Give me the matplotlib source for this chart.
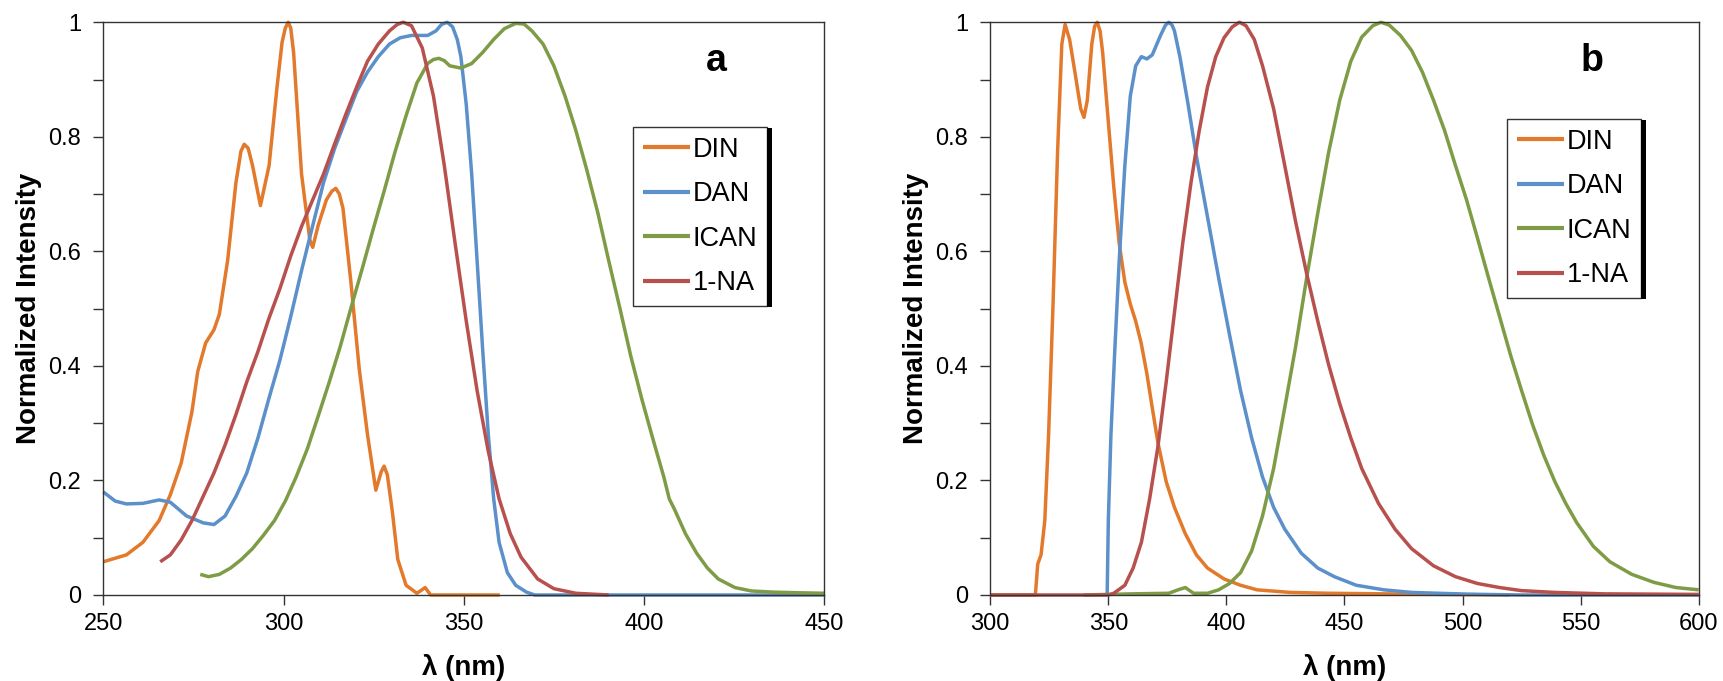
import matplotlib
matplotlib.use("Agg")
import matplotlib.pyplot as plt
from matplotlib.patches import Rectangle
from matplotlib.ticker import MultipleLocator, FuncFormatter

plt.rcParams['font.family'] = ['Liberation Sans', 'DejaVu Sans']

# Panel a: absorption spectra
din_a_x = [250, 256.4, 261, 265.5, 268.6, 271.6, 274.6, 276.2, 278.4, 280.7, 282.2, 284.5,
           286.8, 288.2, 289.1, 290.2, 291.4, 293.6, 296, 298.2, 299.6, 300.5, 301.3, 302,
           302.8, 305, 307.3, 308.1, 309.6, 311.9, 313.4, 314.5, 315.5, 316.5, 318.7, 321,
           323.3, 325.6, 327.1, 327.9, 328.8, 330.2, 331.7, 334, 337, 339.3, 340.8, 360]
din_a_y = [0.058, 0.07, 0.092, 0.13, 0.175, 0.23, 0.32, 0.39, 0.44, 0.463, 0.49, 0.584,
           0.72, 0.775, 0.787, 0.78, 0.75, 0.68, 0.75, 0.887, 0.965, 0.99, 1.0, 0.99,
           0.947, 0.735, 0.62, 0.607, 0.645, 0.69, 0.705, 0.71, 0.7, 0.675, 0.546, 0.395,
           0.28, 0.183, 0.215, 0.225, 0.21, 0.145, 0.062, 0.017, 0.003, 0.013, 0.0, 0.0]

dan_a_x = [250, 253.3, 256.4, 261, 265.5, 268.6, 273.1, 277.7, 280.7, 283.8, 286.8, 289.8,
           292.9, 295.9, 299, 302, 305.1, 308.1, 311.1, 314.2, 317.2, 320.3, 323.3, 326.3,
           329.4, 332.4, 335.5, 340, 342.3, 343.8, 345.4, 346.9, 348.2, 349.2, 350.7, 352.2,
           353.7, 355.2, 356.8, 358.3, 359.8, 362.1, 364.4, 367.4, 369.7, 450]
dan_a_y = [0.18, 0.164, 0.159, 0.16, 0.166, 0.162, 0.138, 0.126, 0.123, 0.138, 0.172, 0.213,
           0.274, 0.342, 0.41, 0.486, 0.569, 0.645, 0.72, 0.78, 0.829, 0.879, 0.913, 0.94,
           0.962, 0.973, 0.977, 0.977, 0.985, 0.996, 1.0, 0.992, 0.97, 0.94, 0.856, 0.735,
           0.584, 0.433, 0.281, 0.168, 0.092, 0.039, 0.017, 0.005, 0.0, 0.0]

ican_a_x = [276.9, 279.2, 282.2, 285.3, 288.3, 291.4, 294.4, 297.5, 300.5, 303.5, 306.6,
            309.6, 312.7, 315.7, 318.7, 321.8, 324.8, 327.9, 330.9, 334, 337, 340, 341.6,
            343.1, 344.6, 346.1, 349.2, 352.2, 355.2, 358.3, 361.3, 364.4, 366.7, 368.9, 372,
            375, 378.1, 381.1, 384.1, 387.2, 390.2, 393.3, 396.3, 399.4, 402.4, 405.5, 407,
            408.5, 411.5, 414.6, 417.6, 420.6, 425.2, 429.8, 435.9, 442, 450]
ican_a_y = [0.036, 0.032, 0.036, 0.047, 0.062, 0.081, 0.104, 0.13, 0.164, 0.206, 0.255,
            0.312, 0.372, 0.433, 0.501, 0.569, 0.637, 0.705, 0.773, 0.837, 0.894, 0.928, 0.935,
            0.937, 0.933, 0.924, 0.92, 0.928, 0.947, 0.97, 0.989, 0.998, 0.997, 0.985, 0.962,
            0.924, 0.871, 0.811, 0.743, 0.667, 0.584, 0.501, 0.418, 0.342, 0.274, 0.206, 0.168,
            0.149, 0.107, 0.073, 0.047, 0.028, 0.013, 0.007, 0.005, 0.004, 0.003]

na_a_x = [265.8, 268.6, 271.6, 274.6, 277.7, 280.7, 283.8, 286.8, 289.8, 292.9, 295.9, 299,
          302, 305.1, 308.1, 311.1, 314.2, 317.2, 320.3, 323.3, 326.3, 329.4, 331.5, 333.2,
          335.5, 338.5, 341.6, 344.6, 347.6, 350.7, 353.7, 356.8, 359.8, 362.9, 365.9, 370.5,
          375, 381.1, 390.2]
na_a_y = [0.058, 0.07, 0.096, 0.13, 0.172, 0.213, 0.262, 0.315, 0.372, 0.425, 0.482, 0.535,
          0.592, 0.645, 0.69, 0.735, 0.788, 0.838, 0.887, 0.932, 0.962, 0.985, 0.996, 1.0,
          0.994, 0.955, 0.871, 0.75, 0.614, 0.478, 0.357, 0.251, 0.168, 0.107, 0.066, 0.028,
          0.011, 0.003, 0.0]

# Panel b: emission spectra
din_b_x = [300, 319.1, 320.1, 321.5, 323.1, 324.7, 326.6, 328.5, 330.3, 331.7, 333.6, 336,
           338.3, 339.7, 341.1, 343, 344.2, 345.3, 346.5, 347.6, 350, 352.3, 354.6, 357,
           359.3, 361.6, 363.9, 366.3, 368.6, 371, 374.5, 378, 382.6, 387.3, 392, 399, 406,
           413, 427, 443.3, 478.4, 520]
din_b_y = [0.0, 0.0, 0.054, 0.07, 0.13, 0.28, 0.51, 0.773, 0.962, 0.996, 0.97, 0.909,
           0.849, 0.834, 0.864, 0.962, 0.993, 1.0, 0.985, 0.947, 0.826, 0.713, 0.614, 0.546,
           0.508, 0.478, 0.44, 0.387, 0.327, 0.266, 0.198, 0.153, 0.107, 0.07, 0.047, 0.028,
           0.017, 0.009, 0.0045, 0.003, 0.0015, 0.0]

dan_b_x = [349.5, 350, 351.1, 352.8, 354.6, 357, 359.3, 361.6, 364, 366.3, 368.6, 372.1,
           374.2, 375.6, 377, 378, 380.3, 383.8, 387.3, 392, 396.7, 401.3, 406, 410.7, 415.3,
           420, 424.7, 431.7, 438.7, 445.7, 455, 466.7, 478.4, 501.7, 525, 600]
dan_b_y = [0.0, 0.13, 0.28, 0.433, 0.584, 0.75, 0.871, 0.924, 0.94, 0.936, 0.943, 0.977,
           0.995, 1.0, 0.995, 0.985, 0.94, 0.856, 0.766, 0.66, 0.554, 0.455, 0.357, 0.274,
           0.206, 0.153, 0.115, 0.073, 0.047, 0.032, 0.017, 0.009, 0.0045, 0.0015, 0.0, 0.0]

ican_b_x = [339.5, 360, 375.6, 379.5, 382.6, 386.1, 392, 396.7, 401.3, 406, 410.7, 415.3,
            420, 424.7, 429.3, 434, 438.7, 443.3, 448, 452.7, 457.3, 462, 465.5, 469, 473.7,
            478.4, 483, 487.7, 492.4, 497, 501.7, 506.4, 511, 515.7, 520.4, 525, 529.7, 534.4,
            539.1, 543.7, 548.4, 555.4, 562.4, 571.7, 581.1, 590.4, 600]
ican_b_y = [0.0, 0.002, 0.003, 0.009, 0.013, 0.003, 0.003, 0.009, 0.02, 0.039, 0.077, 0.138,
            0.221, 0.327, 0.433, 0.554, 0.667, 0.773, 0.864, 0.932, 0.974, 0.994, 1.0, 0.995,
            0.977, 0.951, 0.913, 0.864, 0.811, 0.75, 0.69, 0.622, 0.554, 0.486, 0.418, 0.357,
            0.297, 0.244, 0.198, 0.16, 0.126, 0.085, 0.058, 0.036, 0.022, 0.013, 0.009]

na_b_x = [300, 350, 352.3, 357, 360.5, 364, 367.5, 371, 374.5, 378, 381.5, 385, 388.5, 392,
          395.5, 399, 402.5, 405.5, 408.3, 411.8, 415.3, 420, 424.7, 429.3, 434, 438.7, 443.3,
          448, 452.7, 457.3, 464.4, 471.4, 478.4, 487.7, 497, 506.4, 515.7, 525, 539, 560, 600]
na_b_y = [0.0, 0.0, 0.003, 0.017, 0.047, 0.092, 0.168, 0.259, 0.372, 0.493, 0.614, 0.72,
          0.811, 0.887, 0.94, 0.973, 0.992, 1.0, 0.994, 0.97, 0.924, 0.849, 0.75, 0.652, 0.561,
          0.478, 0.402, 0.334, 0.274, 0.221, 0.16, 0.115, 0.081, 0.051, 0.032, 0.02, 0.013,
          0.0076, 0.0045, 0.002, 0.001]

names = ['DIN', 'DAN', 'ICAN', '1-NA']
colors = ['#E2792B', '#5B90CB', '#7E9C46', '#B8504E']

fig = plt.figure(figsize=(17.24, 6.81), dpi=100)
ax_a = fig.add_axes([0.0599, 0.1263, 0.4182, 0.841])
ax_b = fig.add_axes([0.5744, 0.1263, 0.4109, 0.841])

panels = [
    (ax_a, [(din_a_x, din_a_y), (dan_a_x, dan_a_y), (ican_a_x, ican_a_y), (na_a_x, na_a_y)],
     (250, 450), 'a', (633, 127)),
    (ax_b, [(din_b_x, din_b_y), (dan_b_x, dan_b_y), (ican_b_x, ican_b_y), (na_b_x, na_b_y)],
     (300, 600), 'b', (1507, 119)),
]

legends = []
for ax, series, xlim, tag, leg_pos in panels:
    for (xs, ys), name, c in zip(series, names, colors):
        ax.plot(xs, ys, color=c, lw=2.5, label=name, clip_on=False,
                solid_capstyle='butt', solid_joinstyle='round')
    ax.set_xlim(*xlim)
    ax.set_ylim(0, 1)
    ax.xaxis.set_major_locator(MultipleLocator(50))
    ax.yaxis.set_major_locator(MultipleLocator(0.1))
    ax.yaxis.set_major_formatter(FuncFormatter(
        lambda v, p: ('%g' % round(v, 1)) if round(v * 10) % 2 == 0 else ''))
    ax.tick_params(axis='both', direction='out', length=7, width=1, color='#333333',
                   labelsize=17, labelcolor='black', pad=6)
    ax.tick_params(axis='y', pad=9)
    for s in ax.spines.values():
        s.set_color('#333333')
        s.set_linewidth(1)
    ax.set_xlabel('λ (nm)', fontsize=20, fontweight='bold')
    ax.set_ylabel('Normalized Intensity', fontsize=20, fontweight='bold')
    ax.xaxis.set_label_coords(0.5, -0.103)
    ax.yaxis.set_label_coords(-0.085 if tag == 'a' else -0.087, 0.5)
    ax.text(0.85, 0.932, tag, transform=ax.transAxes, fontsize=27, fontweight='bold',
            ha='center', va='center')

    # legend box placed in figure pixels (top-left corner)
    x0 = leg_pos[0] / 1724
    y0 = 1 - leg_pos[1] / 681
    leg = ax.legend(loc='upper left', bbox_to_anchor=(x0, y0), bbox_transform=fig.transFigure,
                    borderaxespad=0, fontsize=19.5, frameon=True, fancybox=False,
                    edgecolor='black', handlelength=1.75, handletextpad=0.1,
                    borderpad=0.36, labelspacing=0.68)
    leg.get_frame().set_linewidth(1.0)
    for line in leg.get_lines():
        line.set_linewidth(3.0)
    legends.append(leg)

# dark drop shadow on the right edge of each legend
fig.canvas.draw()
for leg in legends:
    bb = leg.get_frame().get_window_extent()
    fig.patches.append(Rectangle((bb.x1, bb.y0 - 1), 5, bb.height, transform=None,
                                 facecolor='black', edgecolor='none', zorder=10))

fig.savefig('out.png', dpi=100)
